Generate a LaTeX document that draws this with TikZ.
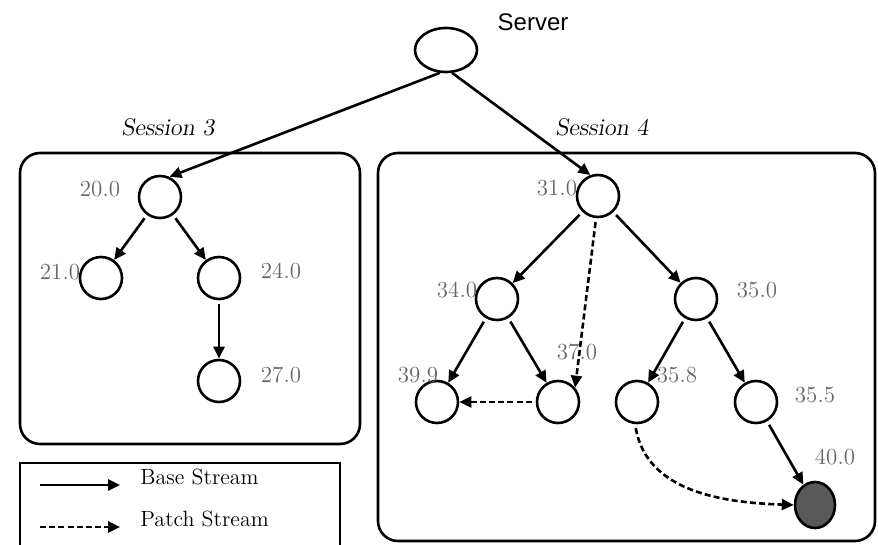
\documentclass[tikz,border=0pt]{standalone}
\usepackage{fontspec}
\newfontfamily\srvfont{Liberation Sans}
\usetikzlibrary{arrows.meta,positioning,shapes.geometric}

\begin{document}
\begin{tikzpicture}[x=0.5pt,y=-0.5pt]
		\tikzstyle{peer}=[circle,draw,line width=1.3pt,minimum size=21pt,inner sep=0pt]
		\tikzstyle{server}=[ellipse,draw,line width=1.3pt,minimum width=31pt,minimum height=22pt,inner sep=0pt]
		\tikzstyle{late}=[ellipse,draw,line width=1.3pt,fill=black!65,minimum width=20pt,minimum height=23pt,inner sep=0pt]
		\tikzstyle{session}=[draw,line width=1.3pt,rounded corners=10pt]
		\tikzstyle{base}=[line width=1.3pt,shorten <=2pt,-{Triangle[length=6pt,width=5.5pt]}]
		\tikzstyle{patch}=[base,dash pattern=on 3pt off 1.6pt]
		\tikzstyle{time}=[text=black!60,font=\fontsize{11.5}{13}\selectfont,inner sep=0pt]
		\tikzstyle{title}=[font=\fontsize{12}{14}\selectfont\slshape,inner sep=0pt]
		\useasboundingbox (0,0) rectangle (878,545);

		% Server
		\node[server] (s) at (446,50) {};
		\node[font=\srvfont\fontsize{12}{14}\selectfont,inner sep=0pt] (srv) at (533,22) {Server};

		% Session 3
		\node[title] (t3) at (168,127) {Session 3};
		\draw [session] (20,153) rectangle (360,444);
		\node[peer] (n20) at (160,197) {};
		\node[peer] (n21) at (101,278) {};
		\node[peer] (n24) at (219,278) {};
		\node[peer] (n27) at (219,381) {};
		\node[time] (l20) at (100,189) {20.0};
		\node[time] (l21) at (60,272) {21.0};
		\node[time] (l24) at (281,271) {24.0};
		\node[time] (l27) at (281,375) {27.0};

		% Session 4
		\node[title] (t4) at (602,127) {Session 4};
		\draw [session] (378,153) rectangle (875,541);
		\node[peer] (n31) at (598,196) {};
		\node[peer] (n34) at (497,299) {};
		\node[peer] (n35) at (696,299) {};
		\node[peer] (n399) at (437,402) {};
		\node[peer] (n37) at (558,402) {};
		\node[peer] (n358) at (637,402) {};
		\node[peer] (n355) at (756,402) {};
		\node[late] (n40) at (815,505) {};
		\node[time] (l31) at (557,188) {31.0};
		\node[time] (l34) at (457,290) {34.0};
		\node[time] (l35) at (757,290) {35.0};
		\node[time] (l37) at (577,352) {37.0};
		\node[time] (l399) at (418,375) {39.9};
		\node[time] (l358) at (677,375) {35.8};
		\node[time] (l355) at (815,395) {35.5};
		\node[time] (l40) at (835,457) {40.0};

		% base streams
		\draw [base,shorten <=0pt] (s.255) -- (n20.65);
		\draw [base,shorten <=0pt] (s.285) -- (n31.110);
		\draw [base] (n20) -- (n21);
		\draw [base] (n20) -- (n24);
		\draw [base] (n24) -- (n27);
		\draw [base] (n31) -- (n34);
		\draw [base] (n31) -- (n35);
		\draw [base] (n34) -- (n399);
		\draw [base] (n34) -- (n37);
		\draw [base] (n35) -- (n358);
		\draw [base] (n35) -- (n355);
		\draw [base] (n355) -- (n40);

		% patch streams
		\draw [patch] (n31.265) -- (n37.40);
		\draw [patch] (n37) -- (n399);
		\draw [patch] (n358.265) to[out=-80,in=178] (n40.west);

		% Legend
		\draw [line width=1.3pt] (20,548) -- (20,463) -- (340,463) -- (340,548);
		\coordinate (b0) at (40,485);
		\coordinate (b1) at (120,485);
		\coordinate (p0) at (40,527);
		\coordinate (p1) at (120,527);
		\draw [base,shorten <=0pt] (b0) -- (b1);
		\draw [patch,shorten <=0pt] (p0) -- (p1);
		\node[font=\fontsize{11}{13}\selectfont,inner sep=0pt,anchor=west] (lb) at (140,477) {Base Stream};
		\node[font=\fontsize{11}{13}\selectfont,inner sep=0pt,anchor=west] (lp) at (140,519) {Patch Stream};
\end{tikzpicture}
\end{document}
